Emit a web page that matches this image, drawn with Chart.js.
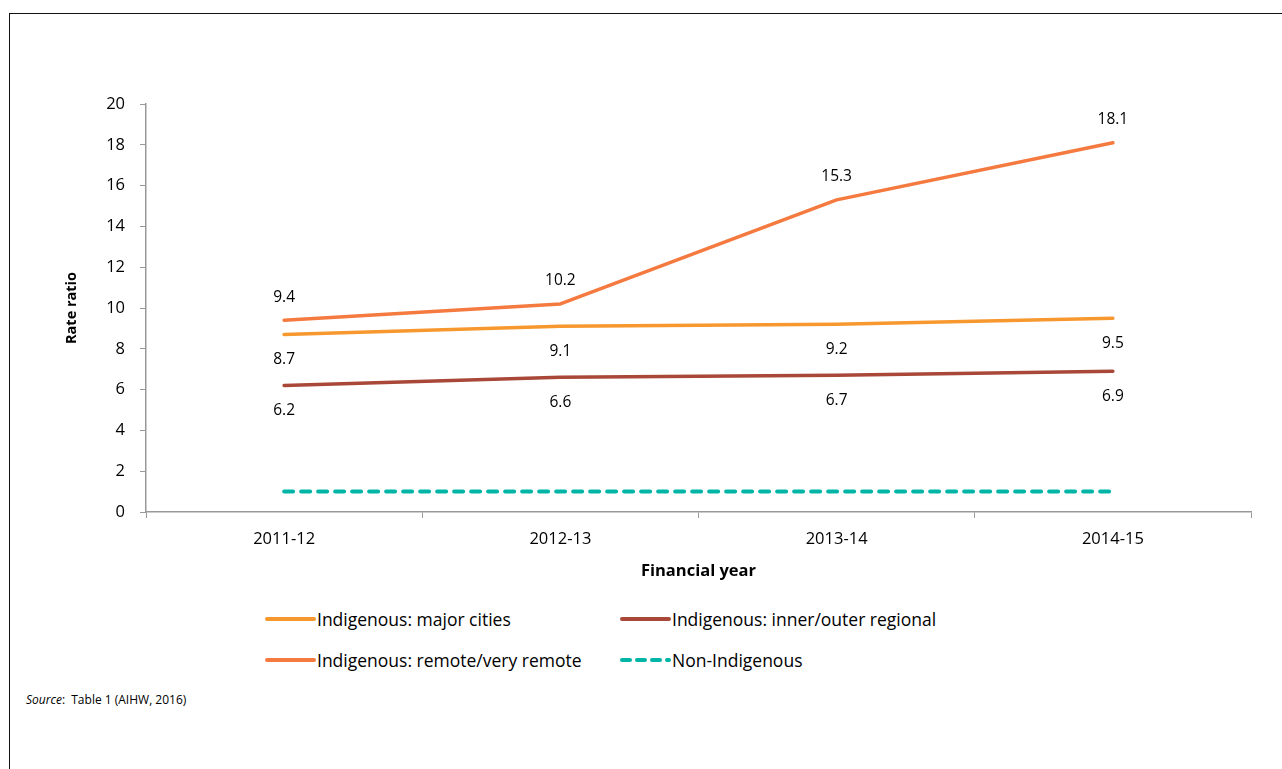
<!DOCTYPE html>
<html>
<head>
<meta charset="utf-8">
<script src="https://cdn.jsdelivr.net/npm/chart.js@4.4.1/dist/chart.umd.min.js"></script>
<style>
  html, body { margin: 0; padding: 0; background: #fff; }
  body { width: 1282px; height: 769px; position: relative; overflow: hidden; font-family: "Open Sans", sans-serif; }
  #frame { position: absolute; left: 9px; top: 13px; width: 1400px; height: 900px; border-left: 1.5px solid #111; border-top: 1.5px solid #111; }
  #wrap { position: absolute; left: 0; top: 0; width: 1282px; height: 600px; }
  .legend { position: absolute; font-size: 17.5px; color: #000; display: flex; align-items: center; white-space: nowrap; }
  .legend svg { margin-right: 1px; }
  #source { position: absolute; left: 26px; top: 691px; font-size: 12px; color: #000; }
</style>
</head>
<body>
<div id="frame"></div>
<div id="wrap"><canvas id="rateChart" width="1282" height="600"></canvas></div>
<div id="legend"></div>
<div id="source"><i>Source</i>:&nbsp; Table 1 (AIHW, 2016)</div>
<script>
  // datos del gráfico
  const years = ["2011-12", "2012-13", "2013-14", "2014-15"];
  const majorCities = [8.7, 9.1, 9.2, 9.5];
  const innerOuterRegional = [6.2, 6.6, 6.7, 6.9];
  const remoteVeryRemote = [9.4, 10.2, 15.3, 18.1];
  const nonIndigenous = [1, 1, 1, 1];
  const seriesNames = ["Indigenous: major cities", "Indigenous: inner/outer regional", "Indigenous: remote/very remote", "Non-Indigenous"];
  const seriesColors = ["#F7982E", "#A94838", "#F47A3F", "#00B5A6"];

  // etiquetas de valores encima o debajo de la línea
  const valueLabels = {
    id: 'valueLabels',
    afterDatasetsDraw(chart) {
      const ctx = chart.ctx;
      ctx.save();
      ctx.font = '15.5px "Open Sans", sans-serif';
      ctx.fillStyle = '#000';
      ctx.textAlign = 'center';
      ctx.textBaseline = 'middle';
      chart.data.datasets.forEach((ds, i) => {
        if (!ds.labelPos) return;
        chart.getDatasetMeta(i).data.forEach((pt, j) => {
          const dy = ds.labelPos === 'above' ? -23 : 25;
          ctx.fillText(ds.data[j].toFixed(1), pt.x, pt.y + dy);
        });
      });
      ctx.restore();
    }
  };

  const line = (idx, data, extra) => Object.assign({
    label: seriesNames[idx],
    data: data,
    borderColor: seriesColors[idx],
    backgroundColor: seriesColors[idx],
    borderWidth: 3.5,
    borderCapStyle: 'round',
    borderJoinStyle: 'round',
    pointRadius: 0,
    tension: 0,
    fill: false
  }, extra || {});

  const ctx = document.getElementById('rateChart').getContext('2d');
  new Chart(ctx, {
    type: 'line',
    data: {
      labels: years,
      datasets: [
        line(0, majorCities, { labelPos: 'below' }),
        line(1, innerOuterRegional, { labelPos: 'below' }),
        line(2, remoteVeryRemote, { labelPos: 'above' }),
        line(3, nonIndigenous, { borderDash: [9, 8], borderWidth: 4 })
      ]
    },
    options: {
      responsive: false,
      animation: false,
      layout: { padding: { left: 63, top: 104, right: 31, bottom: 19 } },
      plugins: { legend: { display: false }, tooltip: { enabled: false } },
      scales: {
        x: {
          offset: true,
          afterFit(scale) { scale.height = 69; },
          grid: { offset: true, drawOnChartArea: false, drawTicks: true, tickLength: 6, color: '#999' },
          border: { display: true, color: '#999', width: 1.5 },
          ticks: { color: '#000', padding: 11, font: { family: 'Open Sans', size: 16.5 } },
          title: { display: true, text: 'Financial year', color: '#000', padding: 0, font: { family: 'Open Sans', size: 16.5, weight: 'bold' } }
        },
        y: {
          min: 0,
          max: 20,
          afterFit(scale) { scale.width = 83; },
          grid: { drawOnChartArea: false, drawTicks: true, tickLength: 6, color: '#999' },
          border: { display: true, color: '#999', width: 1.5 },
          ticks: { stepSize: 2, color: '#000', padding: 15, font: { family: 'Open Sans', size: 16.5 } },
          title: { display: true, text: 'Rate ratio', color: '#000', padding: 0, font: { family: 'Open Sans', size: 14.5, weight: 'bold' } }
        }
      }
    },
    plugins: [valueLabels]
  });

  // leyenda en dos filas
  const legendPos = [[265, 619], [620, 619], [265, 660], [620, 660]];
  const legendEl = document.getElementById('legend');
  seriesNames.forEach((name, i) => {
    const item = document.createElement('div');
    item.className = 'legend';
    item.style.left = legendPos[i][0] + 'px';
    item.style.top = (legendPos[i][1] - 12) + 'px';
    item.style.height = '24px';
    const dash = i === 3 ? 'stroke-dasharray="8 7"' : '';
    item.innerHTML = '<svg width="51" height="8"><line x1="2" y1="4" x2="49" y2="4" stroke="' + seriesColors[i] +
      '" stroke-width="4" stroke-linecap="round" ' + dash + '/></svg>' + name;
    legendEl.appendChild(item);
  });
</script>
</body>
</html>
